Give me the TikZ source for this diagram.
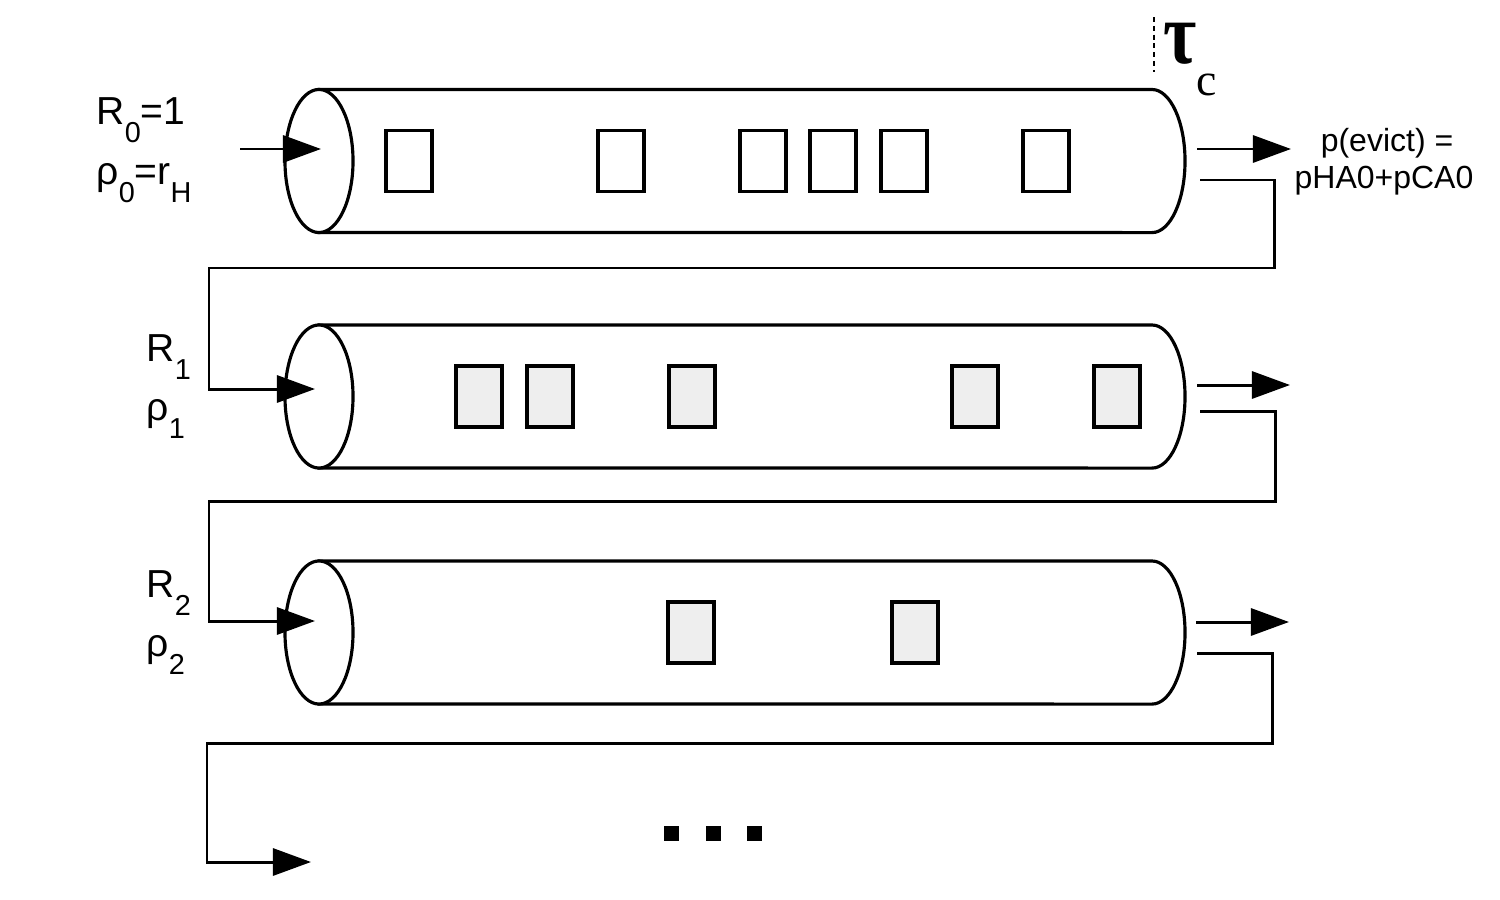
\documentclass[tikz,border=0pt]{standalone}
\usepackage{fontspec}
\setmainfont{Liberation Sans}
\newfontfamily\seriffont{Liberation Serif}
\usetikzlibrary{arrows.meta}
\definecolor{boxgray}{RGB}{238,238,238}
\newcommand{\lsub}[1]{\raisebox{-0.185cm}{\fontsize{8.2}{8}\selectfont #1}}
\begin{document}
\begin{tikzpicture}[x=0.01cm,y=-0.01cm,
  cyl/.style={line width=0.9pt, fill=white},
  flow/.style={line width=0.85pt, -{Triangle[length=0.38cm,width=0.27cm]}},
  ret/.style={line width=0.85pt},
  wbox/.style={draw, line width=0.95pt, minimum width=0.46cm, minimum height=0.61cm, inner sep=0pt, fill=white},
  gbox/.style={wbox, fill=boxgray},
  lbl/.style={inner sep=0pt, font=\fontsize{11.1}{12}\selectfont},
  small/.style={inner sep=0pt, font=\fontsize{9.1}{10.5}\selectfont},
  dotbox/.style={fill=black, minimum width=0.15cm, minimum height=0.15cm, inner sep=0pt}
]
\useasboundingbox[fill=white] (0,0) rectangle (1500,900);

% ---------- cylinders ----------
\foreach \cy in {161,396.5,632.5}{
  \draw[cyl] (319,\cy-71.5) -- (1152,\cy-71.5)
     arc[start angle=90,end angle=-90,x radius=0.33cm,y radius=0.715cm]
     -- (319,\cy+71.5) -- cycle;
  \draw[cyl] (319,\cy) ellipse[x radius=0.34cm, y radius=0.715cm];
}

% ---------- boxes ----------
\node[wbox] (a1) at (409,161) {};
\node[wbox] (a2) at (621,161) {};
\node[wbox] (a3) at (763,161) {};
\node[wbox] (a4) at (833,161) {};
\node[wbox] (a5) at (904,161) {};
\node[wbox] (a6) at (1046,161) {};
\node[gbox] (b1) at (479,396.5) {};
\node[gbox] (b2) at (550,396.5) {};
\node[gbox] (b3) at (692,396.5) {};
\node[gbox] (b4) at (975,396.5) {};
\node[gbox] (b5) at (1117,396.5) {};
\node[gbox] (c1) at (691,632.5) {};
\node[gbox] (c2) at (915,632.5) {};

% ---------- coordinates ----------
\coordinate (s0) at (240,149);
\coordinate (in0) at (321,149);
\coordinate (o0) at (1197,149);
\coordinate (e0) at (1291,149);
\coordinate (r0) at (1200,180);
\coordinate (r0a) at (1274,268);
\coordinate (r0b) at (209,268);
\coordinate (in1) at (315,389);

\coordinate (o1) at (1197,385);
\coordinate (e1) at (1290,385);
\coordinate (r1) at (1200,411);
\coordinate (r1a) at (1275,501);
\coordinate (r1b) at (209,501);
\coordinate (in2) at (315,621);

\coordinate (o2) at (1196,622);
\coordinate (e2) at (1289,622);
\coordinate (r2) at (1197,653);
\coordinate (r2a) at (1272,743);
\coordinate (r2b) at (207,743);
\coordinate (in3) at (311,862);

% ---------- connectors ----------
\draw[flow] (s0) -- (in0);
\draw[flow] (o0) -- (e0);
\draw[ret] (r0) -| (r0a) -- (r0b) |- ([xshift=-0.38cm]in1);
\draw[flow] ([xshift=-0.4cm]in1) -- (in1);

\draw[flow] (o1) -- (e1);
\draw[ret] (r1) -| (r1a) -- (r1b) |- ([xshift=-0.38cm]in2);
\draw[flow] ([xshift=-0.4cm]in2) -- (in2);

\draw[flow] (o2) -- (e2);
\draw[ret] (r2) -| (r2a) -- (r2b) |- ([xshift=-0.38cm]in3);
\draw[flow] ([xshift=-0.4cm]in3) -- (in3);

% ---------- dots ----------
\node[dotbox] (d1) at (671.5,833.5) {};
\node[dotbox] (d2) at (713.5,833.5) {};
\node[dotbox] (d3) at (754.5,833.5) {};

% ---------- tau_c ----------
\draw[line width=0.75pt, dash pattern=on 1.4pt off 1.1pt] (1154,17) -- (1154,72);
\node[inner sep=0pt, anchor=base west, text height=0.4cm, font=\seriffont\bfseries\fontsize{25}{25}\selectfont] (tau) at (1163,63) {\smash{\scalebox{0.82}[1]{τ}}};
\node[inner sep=0pt, anchor=base west, font=\seriffont\fontsize{13}{13}\selectfont] (tc) at (1196,95) {c};

% ---------- labels ----------
\node[lbl, anchor=base west] (R0) at (96,124) {R\lsub{0}=1};
\node[lbl, anchor=base west] (rho0) at (96,184) {ρ\lsub{0}=r\lsub{H}};
\node[lbl, anchor=base west] (R1) at (146,361) {R\lsub{1}};
\node[lbl, anchor=base west] (rho1) at (146,420) {ρ\lsub{1}};
\node[lbl, anchor=base west] (R2) at (146,597) {R\lsub{2}};
\node[lbl, anchor=base west] (rho2) at (146,656) {ρ\lsub{2}};

\node[small, anchor=base] (pe1) at (1387,151) {p(evict) =};
\node[small, anchor=base] (pe2) at (1384,188) {pHA0+pCA0};
\end{tikzpicture}
\end{document}
